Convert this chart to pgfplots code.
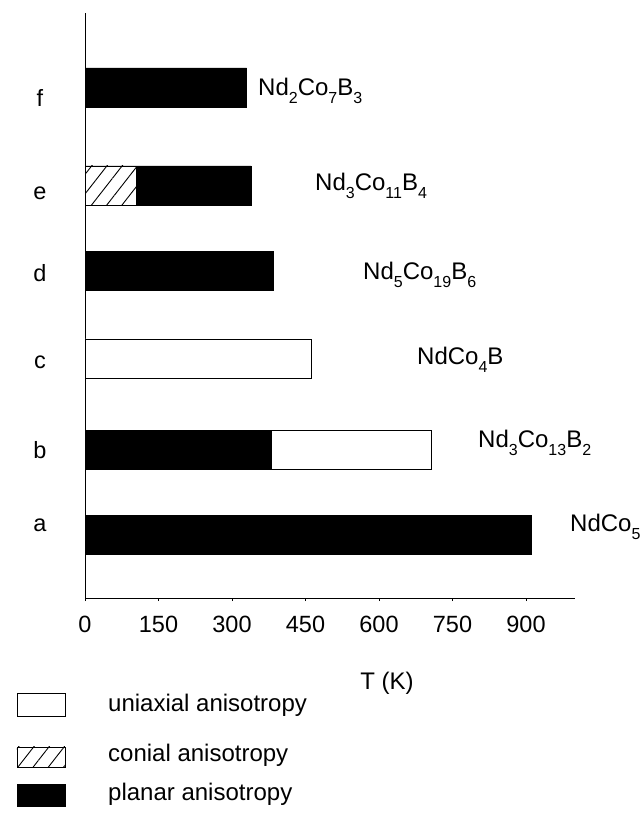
\documentclass[border=0pt]{standalone}
\usepackage{fontspec}
\setmainfont{Liberation Sans}
\usepackage{pgfplots}
\pgfplotsset{compat=1.18}
\usetikzlibrary{patterns.meta}
\newcommand\sub[1]{\raisebox{-0.32em}{\fontsize{16bp}{16bp}\selectfont #1}}
\tikzset{conial/.style={fill=white, draw=black, line width=0.6bp,
   postaction={pattern={Lines[angle=52,distance=12bp,line width=0.9bp]}}}}
\newcommand\bigf{\fontsize{24bp}{28bp}\selectfont}
\begin{document}
\begin{tikzpicture}
\begin{axis}[
  scale only axis, width=490bp, height=585bp,
  xmin=0, xmax=1000, ymin=0, ymax=585,
  axis x line*=bottom, axis y line*=left,
  axis line style={line width=0.8bp},
  xbar, bar width=39bp, bar shift=0pt,
  xtick={0,150,...,900},
  ytick={73,148,236,325,405,500},
  yticklabels={a,b,c,d,e,f},
  ytick style={draw=none},
  xtick style={line width=0.6bp, black},
  tick align=outside, major tick length=3bp,
  /pgf/number format/assume math mode=true,
  tick label style={font=\fontsize{23.5bp}{26bp}\selectfont},
  xticklabel style={anchor=center, yshift=-23bp},
  yticklabel style={anchor=center, xshift=-42bp},
  clip=false,
]
% planar (black)
\addplot[fill=black, draw=black, line width=0.6bp] coordinates {(910,63) (385,327) (339,412.5) (330,510.5)};
% uniaxial (white)
\addplot[fill=white, draw=black, line width=0.6bp] coordinates {(706,148) (461,239.5)};
% planar part of b
\addplot[fill=black, draw=black, line width=0.6bp] coordinates {(380,148)};
% conial part of e
\addplot[conial] coordinates {(104,412.5)};
\coordinate (tl) at (axis cs:-173.47,598);
\coordinate (br) at (axis cs:1136.73,-231);
\end{axis}
\begin{scope}[shift={(tl)}, x=1bp, y=-1bp]
  \node[anchor=base west, inner sep=0pt] at (258,96) {\bigf Nd\sub{2}Co\sub{7}B\sub{3}};
  \node[anchor=base west, inner sep=0pt] at (315,191) {\bigf Nd\sub{3}Co\sub{11}B\sub{4}};
  \node[anchor=base west, inner sep=0pt] at (363,280) {\bigf Nd\sub{5}Co\sub{19}B\sub{6}};
  \node[anchor=base west, inner sep=0pt] at (417,365) {\bigf NdCo\sub{4}B};
  \node[anchor=base west, inner sep=0pt] at (478,448) {\bigf Nd\sub{3}Co\sub{13}B\sub{2}};
  \node[anchor=base west, inner sep=0pt] at (570,532) {\bigf NdCo\sub{5}};
  \node[anchor=base, inner sep=0pt] at (387,690) {\bigf T (K)};
  % legend
  \draw[fill=white, line width=0.6bp] (17,693) rectangle (65,716);
  \draw[conial] (17,747) rectangle (65,767);
  \draw[fill=black, line width=0.6bp] (17,784) rectangle (65,806);
  \node[anchor=base west, inner sep=0pt] at (108,712) {\bigf uniaxial anisotropy};
  \node[anchor=base west, inner sep=0pt] at (108,762) {\bigf conial anisotropy};
  \node[anchor=base west, inner sep=0pt] at (108,801) {\bigf planar anisotropy};
\end{scope}
\pgfresetboundingbox
\path[use as bounding box] (tl) rectangle (br);
\end{tikzpicture}
\end{document}
